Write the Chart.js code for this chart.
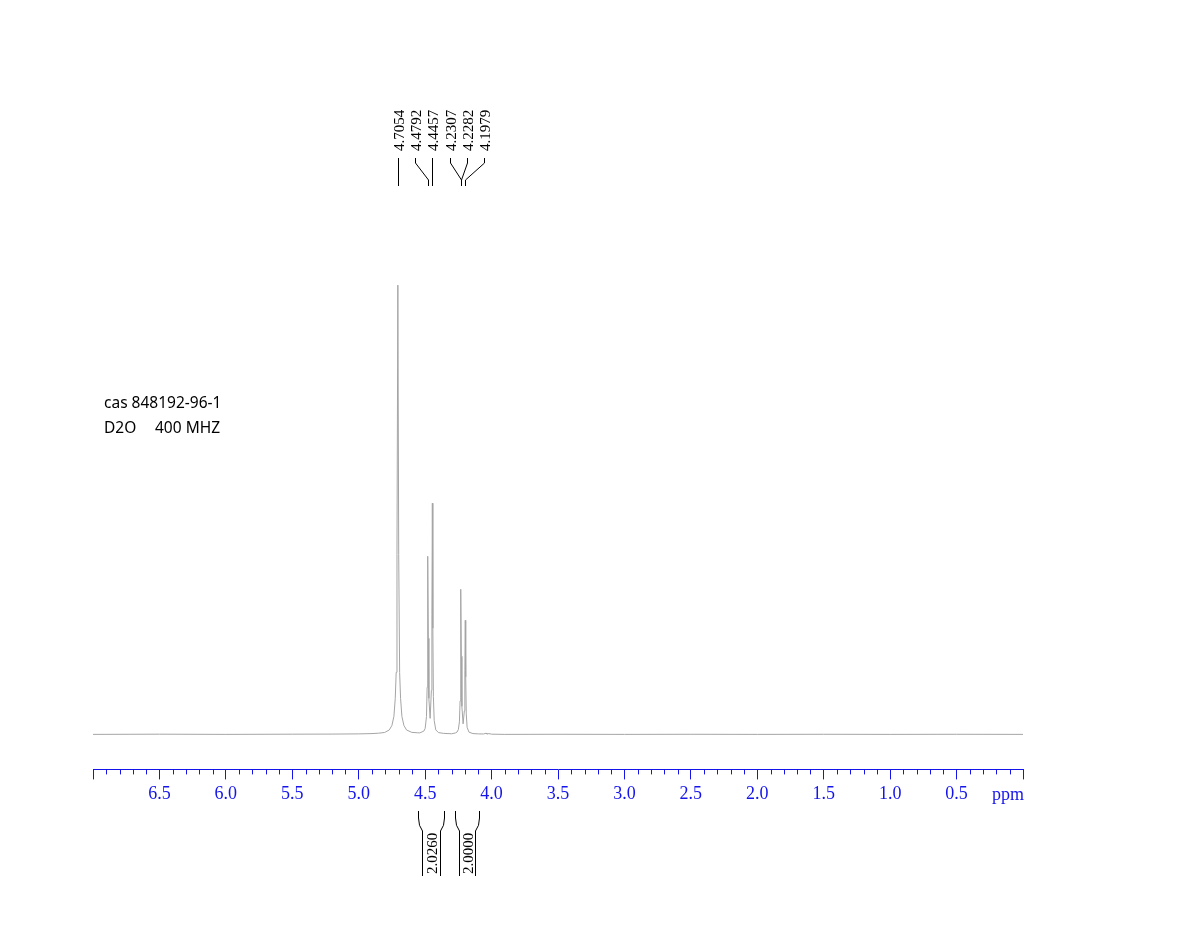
<!DOCTYPE html>
<html>
<head>
<meta charset="utf-8">
<script src="https://cdn.jsdelivr.net/npm/chart.js@4.4.1/dist/chart.umd.min.js"></script>
<style>
html,body{margin:0;padding:0;background:#ffffff;}
#wrap{width:1188px;height:952px;position:relative;}
</style>
</head>
<body>
<div id="wrap"><canvas id="c" width="1188" height="952"></canvas></div>
<script>
// ---- data ----
const shiftPpm = [7.0, 6.5, 6.0, 5.5, 5.2, 5.0, 4.9, 4.85, 4.805, 4.77, 4.75, 4.735, 4.725, 4.718, 4.712, 4.7054, 4.699, 4.692, 4.685, 4.675, 4.66, 4.64, 4.60, 4.56, 4.54, 4.51, 4.50, 4.49, 4.485, 4.482, 4.4792, 4.476, 4.472, 4.4625, 4.453, 4.449, 4.4457, 4.442, 4.438, 4.432, 4.42, 4.40, 4.36, 4.30, 4.27, 4.26, 4.25, 4.242, 4.237, 4.2335, 4.2307, 4.2275, 4.2235, 4.2143, 4.205, 4.201, 4.1979, 4.1945, 4.1905, 4.184, 4.17, 4.14, 4.10, 4.06, 4.04, 4.035, 4.02, 4.0, 3.9, 3.5, 3.0, 2.5, 2.0, 1.5, 1.0, 0.5, 0.0];
const intensity = [0, 0.2, 0, 0.2, 0.3, 0.5, 0.8, 1.2, 1.9, 4.4, 9, 18, 36, 62, 180, 449, 180, 62, 36, 18, 9, 4.4, 2, 1.6, 1.5, 3.3, 5.9, 17.7, 47, 107, 178, 96, 36, 16, 44, 120, 231, 106, 38, 14, 4.5, 1.8, 1, 0.6, 1.5, 2.3, 4.8, 12.5, 33.5, 87, 145, 78, 28, 10.5, 23.5, 64, 114, 57.5, 20.5, 7, 2.2, 0.8, 0.5, 0.4, 1.2, 0.3, 0.8, 0.2, 0, 0.1, 0, 0.1, 0, 0.1, 0, 0.1, 0];
const peakShifts = [4.7054, 4.4792, 4.4457, 4.2307, 4.2282, 4.1979];
const peakLabels = ['4.7054', '4.4792', '4.4457', '4.2307', '4.2282', '4.1979'];
const integralFrom = [4.554, 4.272];
const integralTo = [4.360, 4.094];
const integralLabels = ['2.0260', '2.0000'];
const sampleLines = ['cas 848192-96-1', 'D2O', '400 MHZ'];
const axisUnit = 'ppm';

const BLUE = 'rgb(20,20,235)';
const points = shiftPpm.map((v, i) => ({x: v, y: intensity[i]}));

const annotations = {
  id: 'nmrAnnotations',
  afterDraw(chart) {
    const ctx = chart.ctx;
    const xs = chart.scales.x;
    const axisY = xs.top;
    ctx.save();
    // minor ticks every 0.1 ppm
    ctx.strokeStyle = BLUE;
    ctx.lineWidth = 1;
    ctx.beginPath();
    for (let k = 0; k <= 70; k++) {
      if (k % 5 === 0) continue;
      const px = Math.round(xs.getPixelForValue(k / 10)) + 0.5;
      ctx.moveTo(px, axisY);
      ctx.lineTo(px, axisY + 5);
    }
    ctx.stroke();
    // unit label
    ctx.fillStyle = BLUE;
    ctx.font = '18px "Liberation Serif"';
    ctx.textAlign = 'right';
    ctx.textBaseline = 'alphabetic';
    ctx.fillText(axisUnit, xs.getPixelForValue(0) + 1, axisY + 31);

    // peak labels
    const pxs = peakShifts.map(p => xs.getPixelForValue(p));
    const mean = pxs.reduce((a, b) => a + b, 0) / pxs.length;
    const step = 17.35;
    ctx.font = '15px "Liberation Serif"';
    ctx.fillStyle = '#000';
    ctx.strokeStyle = '#000';
    peakLabels.forEach((lab, i) => {
      const lx = Math.round(mean + (i - (peakLabels.length - 1) / 2) * step) + 0.5;
      ctx.save();
      ctx.translate(lx + 5, 151);
      ctx.rotate(-Math.PI / 2);
      ctx.textAlign = 'left';
      ctx.textBaseline = 'alphabetic';
      ctx.fillText(lab, 0, 0);
      ctx.restore();
      const px = Math.round(pxs[i]) + 0.5;
      ctx.beginPath();
      ctx.moveTo(lx, 158);
      ctx.lineTo(lx, 163);
      ctx.lineTo(px, 180);
      ctx.lineTo(px, 186);
      ctx.stroke();
    });

    // integrals
    ctx.font = '15px "Liberation Serif"';
    integralLabels.forEach((lab, i) => {
      const x1 = Math.round(xs.getPixelForValue(integralFrom[i])) + 0.5;
      const x2 = Math.round(xs.getPixelForValue(integralTo[i])) + 0.5;
      ctx.beginPath();
      ctx.moveTo(x1, 811);
      ctx.lineTo(x1, 818);
      ctx.quadraticCurveTo(x1, 826, x1 + 4, 831);
      ctx.lineTo(x1 + 4, 876);
      ctx.moveTo(x2, 811);
      ctx.lineTo(x2, 818);
      ctx.quadraticCurveTo(x2, 826, x2 - 4, 831);
      ctx.lineTo(x2 - 4, 876);
      ctx.stroke();
      ctx.save();
      ctx.translate((x1 + x2) / 2 + 5, 874);
      ctx.rotate(-Math.PI / 2);
      ctx.textAlign = 'left';
      ctx.textBaseline = 'alphabetic';
      ctx.fillText(lab, 0, 0);
      ctx.restore();
    });

    // sample info
    ctx.font = '15.5px "Noto Sans"';
    ctx.textAlign = 'left';
    ctx.textBaseline = 'alphabetic';
    ctx.fillText(sampleLines[0], 104, 408);
    ctx.fillText(sampleLines[1], 104, 433);
    ctx.fillText(sampleLines[2], 155, 433);
    ctx.restore();
  }
};

new Chart(document.getElementById('c'), {
  type: 'scatter',
  data: {
    datasets: [{
      data: points,
      showLine: true,
      borderColor: 'rgb(165,165,165)',
      borderWidth: 1,
      pointRadius: 0,
      tension: 0
    }]
  },
  options: {
    responsive: false,
    animation: false,
    devicePixelRatio: 1,
    layout: {padding: {left: 93, right: 165, top: 60, bottom: 143}},
    plugins: {legend: {display: false}, tooltip: {enabled: false}},
    scales: {
      x: {
        type: 'linear',
        min: 0,
        max: 7,
        reverse: true,
        position: 'bottom',
        border: {color: BLUE, width: 1},
        grid: {drawOnChartArea: false, tickLength: 10, color: BLUE},
        ticks: {
          stepSize: 0.5,
          color: BLUE,
          padding: 4,
          maxRotation: 0,
          autoSkip: false,
          font: {family: 'Liberation Serif', size: 18},
          callback: v => (Math.abs(v) < 1e-9 || Math.abs(v - 7) < 1e-9) ? '' : Number(v).toFixed(1)
        }
      },
      y: {
        display: false,
        min: -35,
        max: 674
      }
    }
  },
  plugins: [annotations]
});
</script>
</body>
</html>
